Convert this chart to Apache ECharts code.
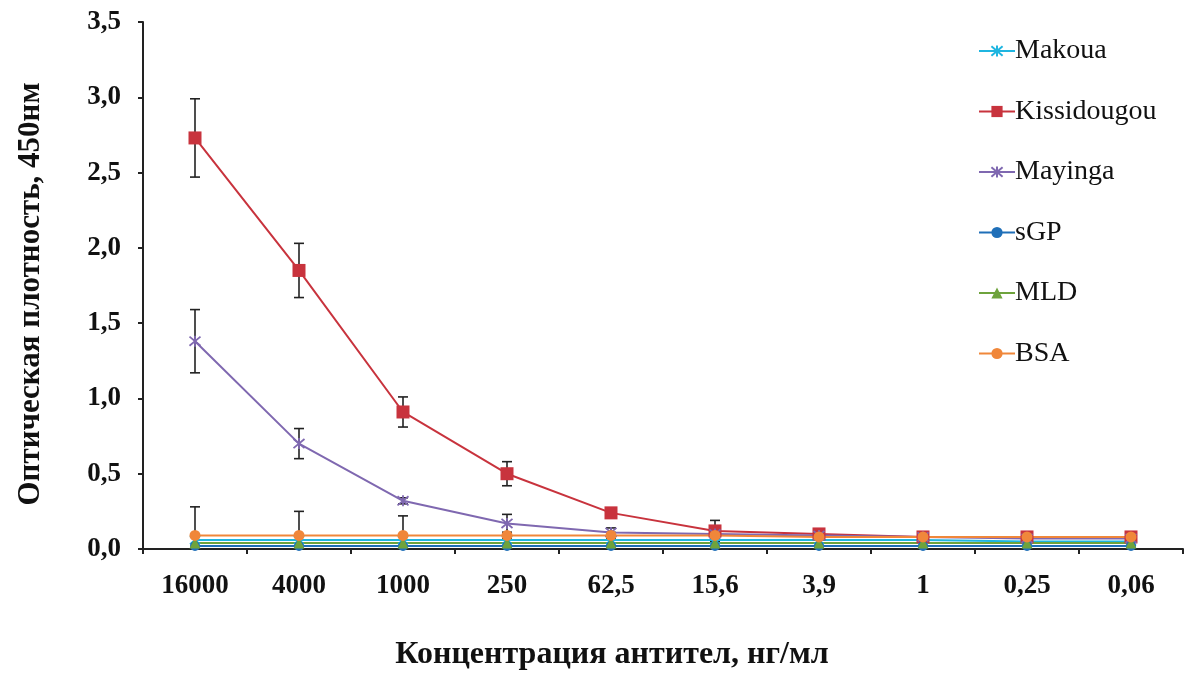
<!DOCTYPE html>
<html>
<head>
<meta charset="utf-8">
<script src="https://cdn.jsdelivr.net/npm/echarts@6/dist/echarts.min.js"></script>
<style>
  html, body { margin: 0; padding: 0; background: #fff; }
  #chart { width: 1194px; height: 675px; }
</style>
</head>
<body>
<div id="chart"></div>
<script>
// Antibody concentration, ng/ml (x-axis categories)
const categories = ['16000', '4000', '1000', '250', '62,5', '15,6', '3,9', '1', '0,25', '0,06'];

// Optical density at 450 nm, mean values per antigen
const makoua      = [0.06, 0.06, 0.06, 0.06, 0.06, 0.06, 0.06, 0.06, 0.05, 0.05];
const kissidougou = [2.73, 1.85, 0.91, 0.50, 0.24, 0.12, 0.10, 0.08, 0.08, 0.08];
const mayinga     = [1.38, 0.70, 0.32, 0.17, 0.11, 0.10, 0.09, 0.08, 0.07, 0.07];
const sgp         = [0.02, 0.02, 0.02, 0.02, 0.02, 0.02, 0.02, 0.02, 0.02, 0.02];
const mld         = [0.04, 0.04, 0.04, 0.04, 0.04, 0.04, 0.04, 0.04, 0.04, 0.04];
const bsa         = [0.09, 0.09, 0.09, 0.09, 0.09, 0.09, 0.08, 0.08, 0.08, 0.08];

// Standard deviations
const kissidougouErr = [0.26, 0.18, 0.10, 0.08, 0.03, 0.07, 0.03, 0.02, 0.02, 0.02];
const mayingaErr     = [0.21, 0.10, 0.02, 0.06, 0.03, 0.02, 0.02, 0.01, 0.01, 0.01];
const bsaErr         = [0.19, 0.16, 0.13, 0.02, 0.02, 0.02, 0.02, 0.01, 0.01, 0.01];

const yTicks = { min: 0, max: 3.5, interval: 0.5 };

const FONT = '"Liberation Serif", "Times New Roman", serif';
const asterisk = 'path://M0,0L10,10M10,0L0,10M5,-1L5,11';

function lineSeries(name, data, color, symbol, size) {
  return {
    name: name,
    type: 'line',
    data: data,
    symbol: symbol,
    symbolSize: size,
    showSymbol: true,
    lineStyle: { color: color, width: 2 },
    itemStyle: { color: color, borderColor: color, borderWidth: symbol === asterisk ? 1.8 : 0 },
    z: 3
  };
}

function errorSeries(values, errs) {
  const pts = values.map((v, i) => [i, v - errs[i], v + errs[i]]);
  return {
    type: 'custom',
    data: pts,
    z: 2,
    silent: true,
    clip: true,
    encode: { x: 0, y: [1, 2] },
    renderItem: function (params, api) {
      const i = api.value(0);
      const lo = api.coord([i, api.value(1)]);
      const hi = api.coord([i, api.value(2)]);
      const cap = 5;
      const style = { stroke: '#222', lineWidth: 1.6 };
      return {
        type: 'group',
        children: [
          { type: 'line', shape: { x1: lo[0], y1: lo[1], x2: hi[0], y2: hi[1] }, style: style },
          { type: 'line', shape: { x1: hi[0] - cap, y1: hi[1], x2: hi[0] + cap, y2: hi[1] }, style: style },
          { type: 'line', shape: { x1: lo[0] - cap, y1: lo[1], x2: lo[0] + cap, y2: lo[1] }, style: style }
        ]
      };
    }
  };
}

const chart = echarts.init(document.getElementById('chart'));
chart.setOption({
  animation: false,
  backgroundColor: '#fff',
  grid: { left: 143, right: 11, top: 22, bottom: 126, outerBoundsMode: 'none' },
  legend: {
    data: ['Makoua', 'Kissidougou', 'Mayinga', 'sGP', 'MLD', 'BSA'],
    orient: 'vertical',
    left: 973,
    top: 32,
    itemGap: 32.5,
    itemWidth: 36,
    itemHeight: 14,
    textStyle: { fontFamily: FONT, fontSize: 28, lineHeight: 28, color: '#111', padding: [0, 0, 0, -5] }
  },
  xAxis: {
    type: 'category',
    data: categories,
    boundaryGap: true,
    name: 'Концентрация антител, нг/мл',
    nameLocation: 'middle',
    nameGap: 90,
    nameTextStyle: { fontFamily: FONT, fontSize: 32, fontWeight: 'bold', color: '#111', padding: [0, 102, 0, 0] },
    axisLine: { lineStyle: { color: '#222', width: 2 } },
    axisTick: { show: true, inside: false, length: 5, lineStyle: { color: '#222', width: 2 } },
    axisLabel: { fontFamily: FONT, fontSize: 27, fontWeight: 'bold', color: '#111', margin: 24 }
  },
  yAxis: {
    type: 'value',
    min: yTicks.min,
    max: yTicks.max,
    interval: yTicks.interval,
    name: 'Оптическая плотность, 450нм',
    nameLocation: 'middle',
    nameGap: 97,
    nameTextStyle: { fontFamily: FONT, fontSize: 31, fontWeight: 'bold', color: '#111', padding: [0, 17, 0, 0] },
    axisLine: { show: true, lineStyle: { color: '#222', width: 2 } },
    axisTick: { show: true, length: 5, lineStyle: { color: '#222', width: 2 } },
    splitLine: { show: false },
    axisLabel: {
      fontFamily: FONT, fontSize: 27, fontWeight: 'bold', color: '#111', margin: 22,
      formatter: v => v.toFixed(1).replace('.', ',')
    }
  },
  series: [
    lineSeries('Makoua', makoua, '#1fb5e0', asterisk, 10),
    lineSeries('Kissidougou', kissidougou, '#c8333d', 'rect', 13),
    lineSeries('Mayinga', mayinga, '#7f68b0', asterisk, 11),
    lineSeries('sGP', sgp, '#1f6fb8', 'circle', 10),
    lineSeries('MLD', mld, '#6ea33c', 'triangle', 11),
    lineSeries('BSA', bsa, '#f0873a', 'circle', 11),
    errorSeries(kissidougou, kissidougouErr),
    errorSeries(mayinga, mayingaErr),
    errorSeries(bsa, bsaErr)
  ]
});
</script>
</body>
</html>
